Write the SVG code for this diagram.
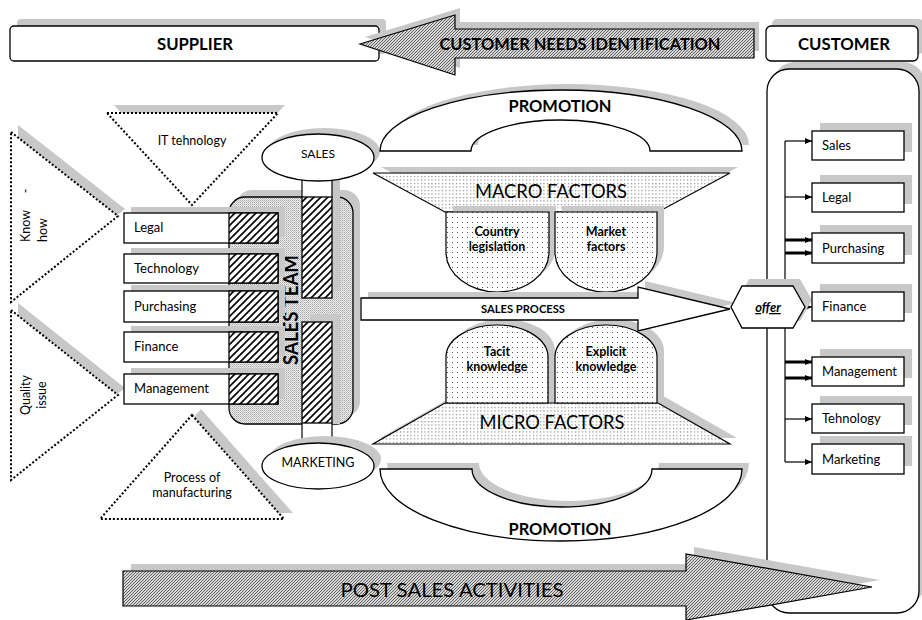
<svg xmlns="http://www.w3.org/2000/svg" width="922" height="620" viewBox="0 0 922 620">
<defs>
<pattern id="hatch" width="7" height="7" patternUnits="userSpaceOnUse"><rect width="7" height="7" fill="#fff"/><path d="M-1,1 L1,-1 M0,7 L7,0 M6,8 L8,6" stroke="#000" stroke-width="1.6"/></pattern>
<pattern id="fine" width="3" height="3" patternUnits="userSpaceOnUse"><rect width="3" height="3" fill="#d6d6d6"/><path d="M-0.5,0.5 L0.5,-0.5 M0,3 L3,0 M2.5,3.5 L3.5,2.5" stroke="#444" stroke-width="0.8"/></pattern>
<pattern id="stip" width="2" height="2" patternUnits="userSpaceOnUse"><rect width="2" height="2" fill="#ececec"/><rect width="1" height="1" fill="#a8a8a8"/><rect x="1" y="1" width="1" height="1" fill="#c8c8c8"/></pattern>
<pattern id="dots" width="3.5" height="3.5" patternUnits="userSpaceOnUse"><rect width="3.5" height="3.5" fill="#fff"/><rect x="1" y="1" width="1" height="1" fill="#555"/></pattern>
<pattern id="sparse" width="5" height="5" patternUnits="userSpaceOnUse"><rect width="5" height="5" fill="#fff"/><rect x="2" y="2" width="1" height="1" fill="#555"/></pattern>
<marker id="ah" markerWidth="7" markerHeight="6" refX="7" refY="3" orient="auto" markerUnits="userSpaceOnUse"><path d="M0,0 L7,3 L0,6 Z" fill="#000"/></marker>
</defs>
<style>
.ln{fill:#fff;stroke:#000;stroke-width:1.3}
.sh{fill:#c8c8c8;stroke:none}
.dot{fill:#fff;stroke:#000;stroke-width:2;stroke-dasharray:2 2}
.hat{fill:url(#hatch);stroke:#000;stroke-width:1.3}
.dts{fill:url(#dots);stroke:#000;stroke-width:1.2}
.sps{fill:url(#sparse);stroke:#000;stroke-width:1.2}
.fin{fill:url(#fine);stroke:#000;stroke-width:1.2}
text{font-family:Lato,"Open Sans","Liberation Sans",sans-serif;fill:#000}
.b{font-weight:bold}
.c{text-anchor:middle}
.bx{font-size:13px}
.cn line,.cn path{stroke:#000;stroke-width:1.2;fill:none}
.cn .tk{stroke-width:3}
</style>
<rect width="922" height="620" fill="#fff"/>

<g id="supplier">
<rect class="sh" x="17" y="19" width="369" height="35" rx="4"/>
<rect class="ln" x="10" y="26" width="369" height="35" rx="4"/>
<text class="b c" x="195" y="50" font-size="17" textLength="76" lengthAdjust="spacingAndGlyphs">SUPPLIER</text>
</g>

<g id="customer-needs">
<path class="sh" d="M365,37 L460,8 L460,22 L759,22 L759,51 L460,51 L460,68 Z"/>
<path class="fin" d="M360,44 L455,15 L455,29 L754,29 L754,58 L455,58 L455,75 Z"/>
<text class="b c" x="580" y="50" font-size="17" textLength="281" lengthAdjust="spacingAndGlyphs">CUSTOMER NEEDS IDENTIFICATION</text>
</g>

<g id="customer">
<rect class="sh" x="772" y="19" width="152" height="35" rx="5"/>
<rect class="ln" x="766" y="26" width="152" height="35" rx="5"/>
<text class="b c" x="844" y="50" font-size="17" textLength="92" lengthAdjust="spacingAndGlyphs">CUSTOMER</text>
</g>

<g id="customer-panel">
<rect class="sh" x="773" y="62" width="152" height="543" rx="22"/>
<rect class="ln" x="767" y="69" width="152" height="544" rx="22" stroke-width="1"/>
</g>

<g id="it-tehnology">
<polygon class="sh" points="114,105 285,105 199,197"/>
<polygon class="dot" points="107,113 278,113 192,205"/>
<text class="c" x="192" y="145" font-size="12.5">IT tehnology</text>
</g>

<g id="know-how">
<polygon class="sh" points="18,125 125,209 18,295"/>
<polygon class="dot" points="11,132 118,216 11,302"/>
<text font-size="12.5" transform="translate(30,242) rotate(-90)">Know</text>
<text class="c" font-size="12.5" transform="translate(30,191) rotate(-90)">-</text>
<text font-size="12.5" transform="translate(47,242) rotate(-90)">how</text>
</g>

<g id="quality-issue">
<polygon class="sh" points="18,303 125,388 18,473"/>
<polygon class="dot" points="11,310 118,395 11,480"/>
<text class="c" font-size="12.5" transform="translate(30,395) rotate(-90)">Quality</text>
<text class="c" font-size="12.5" transform="translate(46,395) rotate(-90)">issue</text>
</g>

<g id="process-of-manufacturing">
<polygon class="sh" points="201,409 293,513 109,513"/>
<polygon class="dot" points="192,415 284,519 100,519"/>
<text class="c" x="192" y="482" font-size="12.5">Process of</text>
<text class="c" x="192" y="497" font-size="12.5">manufacturing</text>
</g>

<g id="sales-team">
<rect class="sh" x="236" y="190" width="124" height="227" rx="16"/>
<rect x="229" y="197" width="124" height="227" rx="16" fill="url(#stip)" stroke="#000" stroke-width="1.3"/>
<rect class="sh" x="310" y="163" width="30" height="128"/>
<rect class="sh" x="310" y="314" width="30" height="110"/>
<rect x="302" y="170" width="30" height="27" fill="#fff"/>
<rect x="302" y="423" width="30" height="28" fill="#fff"/>
<line x1="302" y1="170" x2="302" y2="197" stroke="#000" stroke-width="1.2"/>
<line x1="332" y1="170" x2="332" y2="197" stroke="#000" stroke-width="1.2"/>
<line x1="302" y1="423" x2="302" y2="451" stroke="#000" stroke-width="1.2"/>
<line x1="332" y1="423" x2="332" y2="451" stroke="#000" stroke-width="1.2"/>
<rect class="hat" x="302" y="197" width="30" height="101"/>
<rect class="hat" x="302" y="322" width="30" height="101"/>
<text class="b c" font-size="21" textLength="110" lengthAdjust="spacingAndGlyphs" transform="translate(298,310) rotate(-90)">SALES TEAM</text>
</g>

<g id="box-legal">
<rect class="sh" x="131" y="207" width="154" height="30"/>
<rect class="ln" x="124" y="213" width="154" height="30"/>
<rect class="hat" x="229" y="213" width="49" height="30"/>
<text class="bx" x="134" y="232">Legal</text>
</g>
<g id="box-technology">
<rect class="sh" x="131" y="248" width="154" height="29"/>
<rect class="ln" x="124" y="254" width="154" height="29"/>
<rect class="hat" x="229" y="254" width="49" height="29"/>
<text class="bx" x="134" y="273">Technology</text>
</g>
<g id="box-purchasing">
<rect class="sh" x="131" y="285" width="154" height="31"/>
<rect class="ln" x="124" y="291" width="154" height="31"/>
<rect class="hat" x="229" y="291" width="49" height="31"/>
<text class="bx" x="134" y="311">Purchasing</text>
</g>
<g id="box-finance">
<rect class="sh" x="131" y="326" width="154" height="30"/>
<rect class="ln" x="124" y="332" width="154" height="30"/>
<rect class="hat" x="229" y="332" width="49" height="30"/>
<text class="bx" x="134" y="351">Finance</text>
</g>
<g id="box-management">
<rect class="sh" x="131" y="368" width="154" height="30"/>
<rect class="ln" x="124" y="374" width="154" height="30"/>
<rect class="hat" x="229" y="374" width="49" height="30"/>
<text class="bx" x="134" y="393">Management</text>
</g>

<g id="sales">
<ellipse class="sh" cx="324" cy="151.5" rx="56" ry="23.5"/>
<ellipse class="ln" cx="318" cy="157.5" rx="56" ry="23.5"/>
<text class="c" x="318" y="158" font-size="12">SALES</text>
</g>
<g id="marketing">
<ellipse class="sh" cx="325" cy="459" rx="56" ry="23"/>
<ellipse class="ln" cx="318" cy="466" rx="56" ry="23"/>
<text class="c" x="318" y="467" font-size="12.5">MARKETING</text>
</g>

<g id="promotion-top">
<path class="sh" transform="translate(7,-6)" d="M380,151 A181,61 0 0 1 742,151 L650,151 A89.5,31 0 0 0 471,151 Z"/>
<path class="ln" d="M380,151 A181,61 0 0 1 742,151 L650,151 A89.5,31 0 0 0 471,151 Z"/>
<text class="b c" x="560" y="112" font-size="17" textLength="103" lengthAdjust="spacingAndGlyphs">PROMOTION</text>
</g>

<g id="macro-factors">
<polygon class="sh" points="381,167 738,167 666,206 453,206"/>
<polygon class="dts" points="373,173 730,173 658,212 445,212"/>
<text class="c" x="551" y="198" font-size="20" textLength="152" lengthAdjust="spacingAndGlyphs">MACRO FACTORS</text>
</g>
<g id="country-legislation">
<path class="sh" transform="translate(7,-6)" d="M446,212 V252 A51.5,40 0 0 0 549,252 V212 Z"/>
<path class="sps" d="M446,212 V252 A51.5,40 0 0 0 549,252 V212 Z"/>
<text class="b c" x="497" y="236" font-size="12.5">Country</text>
<text class="b c" x="497" y="251" font-size="12.5">legislation</text>
</g>
<g id="market-factors">
<path class="sh" transform="translate(7,-6)" d="M555,212 V252 A51,40 0 0 0 657,252 V212 Z"/>
<path class="sps" d="M555,212 V252 A51,40 0 0 0 657,252 V212 Z"/>
<text class="b c" x="606" y="236" font-size="12.5">Market</text>
<text class="b c" x="606" y="251" font-size="12.5">factors</text>
</g>

<g id="micro-factors">
<polygon class="sh" points="452,397 665,397 737,438 380,438"/>
<polygon class="dts" points="445,403 658,403 730,444 373,444"/>
<text class="c" x="552" y="429" font-size="20" textLength="145" lengthAdjust="spacingAndGlyphs">MICRO FACTORS</text>
</g>
<g id="tacit-knowledge">
<path class="sh" transform="translate(7,-6)" d="M446,403 V357 A51,32 0 0 1 548,357 V403 Z"/>
<path class="sps" d="M446,403 V357 A51,32 0 0 1 548,357 V403 Z"/>
<text class="b c" x="497" y="356" font-size="12.5">Tacit</text>
<text class="b c" x="497" y="371" font-size="12.5">knowledge</text>
</g>
<g id="explicit-knowledge">
<path class="sh" transform="translate(7,-6)" d="M555,403 V357 A51,32 0 0 1 657,357 V403 Z"/>
<path class="sps" d="M555,403 V357 A51,32 0 0 1 657,357 V403 Z"/>
<text class="b c" x="606" y="356" font-size="12.5">Explicit</text>
<text class="b c" x="606" y="371" font-size="12.5">knowledge</text>
</g>

<g id="sales-process">
<path class="sh" transform="translate(7,-6)" d="M361,298 H638 V287 L730,309 L638,331 V320 H361 Z"/>
<path class="ln" d="M361,298 H638 V287 L730,309 L638,331 V320 H361 Z"/>
<text class="b c" x="523" y="313" font-size="11.5" textLength="84" lengthAdjust="spacingAndGlyphs">SALES PROCESS</text>
</g>

<g id="promotion-bottom">
<path class="sh" transform="translate(7,-6)" d="M380,469 L472,469 A90,38 0 0 0 652,469 L742,469 A181,72 0 0 1 380,469 Z"/>
<path class="ln" d="M380,469 L472,469 A90,38 0 0 0 652,469 L742,469 A181,72 0 0 1 380,469 Z"/>
<text class="b c" x="560" y="535" font-size="17" textLength="103" lengthAdjust="spacingAndGlyphs">PROMOTION</text>
</g>

<g id="connectors" class="cn">
<line x1="785" y1="141" x2="785" y2="462"/>
<line x1="785" y1="141" x2="812" y2="141" marker-end="url(#ah)"/>
<line x1="785" y1="197" x2="812" y2="197" marker-end="url(#ah)"/>
<line class="tk" x1="785" y1="240" x2="812" y2="240" marker-end="url(#ah)"/>
<line class="tk" x1="785" y1="253" x2="812" y2="253" marker-end="url(#ah)"/>
<line x1="803" y1="307" x2="812" y2="307" marker-end="url(#ah)"/>
<line class="tk" x1="785" y1="362" x2="812" y2="362" marker-end="url(#ah)"/>
<line class="tk" x1="785" y1="378" x2="812" y2="378" marker-end="url(#ah)"/>
<line x1="785" y1="419" x2="812" y2="419" marker-end="url(#ah)"/>
<line x1="785" y1="462" x2="812" y2="462" marker-end="url(#ah)"/>
</g>

<g id="offer">
<polygon class="sh" points="738,300 749,279 800,279 812,300 800,321 749,321"/>
<polygon class="ln" points="731,307 742,286 793,286 805,307 793,328 742,328" stroke-width="1"/>
<text class="b c" x="768" y="312" font-size="13" font-style="italic" text-decoration="underline">offer</text>
</g>

<g id="r-sales">
<rect class="sh" x="820" y="123" width="92" height="29"/>
<rect class="ln" x="812" y="131" width="92" height="29"/>
<text class="bx" x="822" y="150">Sales</text>
</g>
<g id="r-legal">
<rect class="sh" x="820" y="175" width="92" height="29"/>
<rect class="ln" x="812" y="183" width="92" height="29"/>
<text class="bx" x="822" y="202">Legal</text>
</g>
<g id="r-purchasing">
<rect class="sh" x="820" y="225" width="92" height="30"/>
<rect class="ln" x="812" y="233" width="92" height="30"/>
<text class="bx" x="822" y="252.5">Purchasing</text>
</g>
<g id="r-finance">
<rect class="sh" x="820" y="284" width="92" height="29"/>
<rect class="ln" x="812" y="292" width="92" height="29"/>
<text class="bx" x="822" y="311">Finance</text>
</g>
<g id="r-management">
<rect class="sh" x="820" y="349" width="92" height="29"/>
<rect class="ln" x="812" y="357" width="92" height="29"/>
<text class="bx" x="822" y="376">Management</text>
</g>
<g id="r-tehnology">
<rect class="sh" x="820" y="396" width="92" height="29"/>
<rect class="ln" x="812" y="404" width="92" height="29"/>
<text class="bx" x="822" y="423">Tehnology</text>
</g>
<g id="r-marketing">
<rect class="sh" x="820" y="436" width="92" height="30"/>
<rect class="ln" x="812" y="444" width="92" height="30"/>
<text class="bx" x="822" y="463.5">Marketing</text>
</g>

<g id="post-sales">
<path class="sh" transform="translate(8,-7)" d="M123,571 H686 V554 L872,587 L686,620 V606 H123 Z"/>
<path class="fin" d="M123,571 H686 V554 L872,587 L686,620 V606 H123 Z"/>
<text class="c" x="452" y="597" font-size="20" textLength="223" lengthAdjust="spacingAndGlyphs">POST SALES ACTIVITIES</text>
</g>
</svg>
